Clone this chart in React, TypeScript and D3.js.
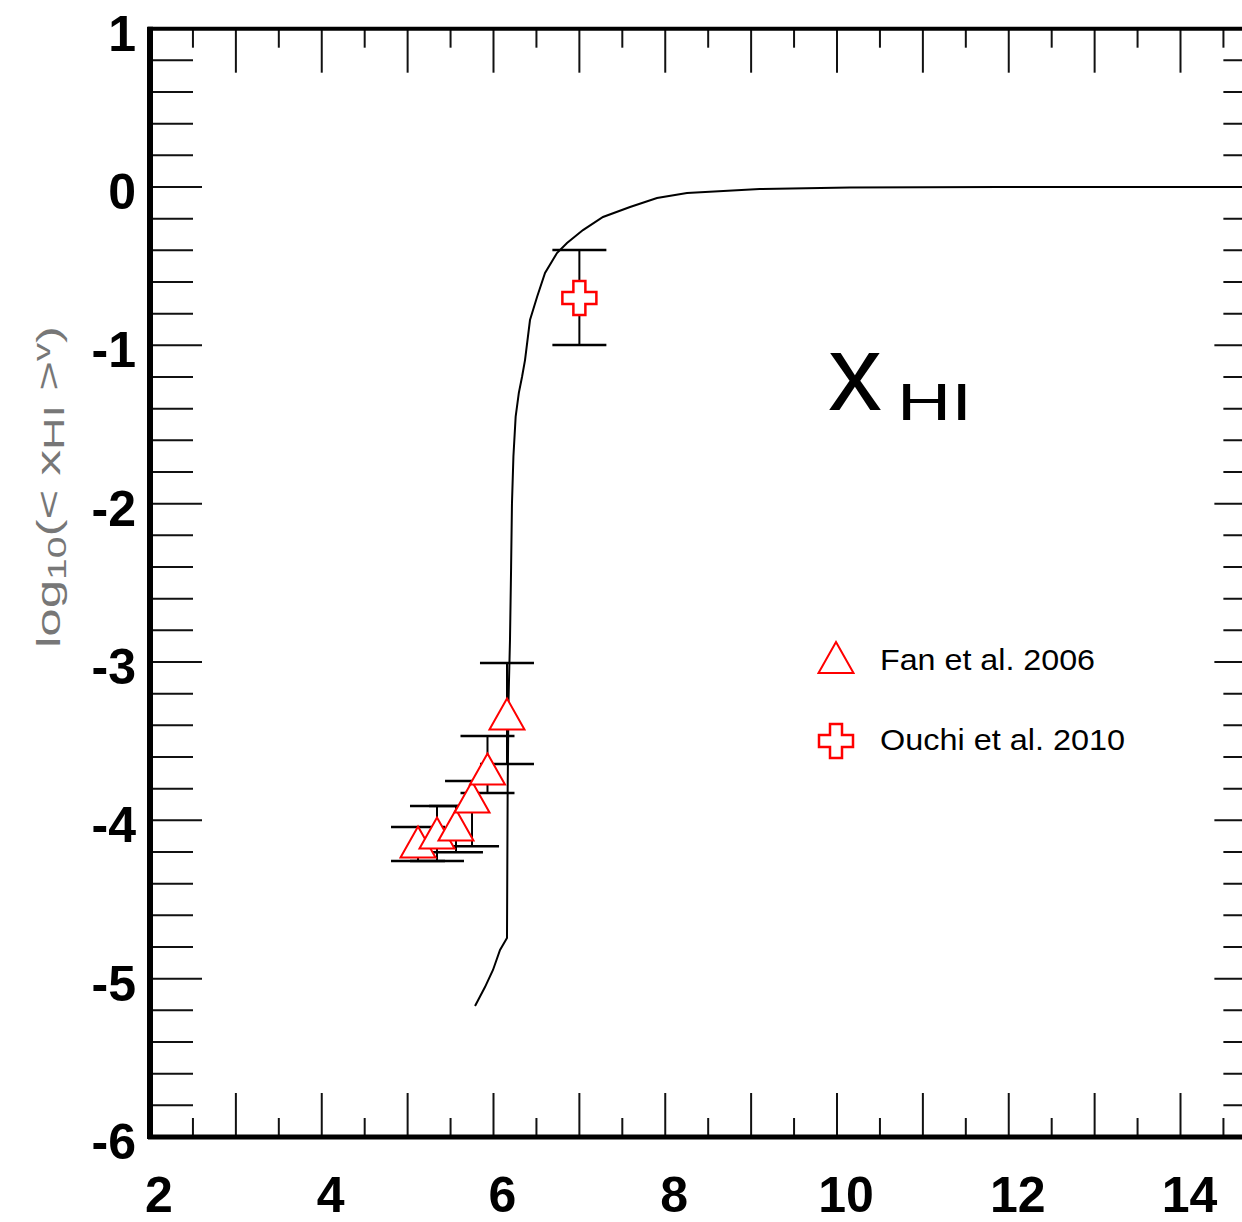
import React from "react";
import * as d3 from "d3";

// ---- data ----
const curveZ = [5.785, 5.901, 5.994, 6.076, 6.157, 6.165, 6.175, 6.192, 6.205, 6.215, 6.232, 6.258, 6.295, 6.332, 6.367, 6.425, 6.507, 6.6, 6.739, 6.856, 7.042, 7.275, 7.59, 7.904, 8.253, 9.1, 10.15, 11.9, 15];
const curveLogX = [-5.173, -5.053, -4.945, -4.819, -4.743, -3.8, -3.24, -2.861, -2.4, -2.0, -1.7, -1.45, -1.3, -1.2, -1.093, -0.84, -0.695, -0.543, -0.417, -0.354, -0.272, -0.189, -0.126, -0.069, -0.038, -0.013, -0.003, 0, 0];

const fanZ = [5.121, 5.342, 5.563, 5.75, 5.93, 6.157];
const fanY = [-4.137, -4.08, -4.029, -3.853, -3.676, -3.328];
const fanUp = [-4.042, -3.909, -3.909, -3.751, -3.467, -3.006];
const fanLo = [-4.257, -4.257, -4.201, -4.163, -3.827, -3.644];

const ouchiZ = [7.0];
const ouchiY = [-0.701];
const ouchiUp = [-0.398];
const ouchiLo = [-0.998];

const xTickLabels = ["2", "4", "6", "8", "10", "12", "14"];
const yTickLabels = ["1", "0", "-1", "-2", "-3", "-4", "-5", "-6"];
const legendLabels = ["Fan et al. 2006", "Ouchi et al. 2010"];

const W = 1242;
const H = 1222;

const x = d3.scaleLinear().domain([2, 15]).range([150, 150 + 13 * 85.875]);
const y = d3.scaleLinear().domain([-6, 1]).range([1137, 1137 - 7 * 158.33]);

const triPath = "M0,-15.5 L17.5,15.5 L-17.5,15.5 Z";
const crossPath = (() => {
  const a = 6, b = 17;
  return `M${-a},${-b} L${a},${-b} L${a},${-a} L${b},${-a} L${b},${a} L${a},${a} L${a},${b} L${-a},${b} L${-a},${a} L${-b},${a} L${-b},${-a} L${-a},${-a} Z`;
})();

export default function App() {
  const x0 = x(2), x1 = x(15), yT = y(1), yB = y(-6);
  const xMajor = d3.range(2, 16, 1);
  const xMinor = d3.range(2.5, 15, 1);
  const yMajor = d3.range(-6, 2, 1);
  const yMinor: number[] = [];
  for (let i = -6; i < 1; i++) for (let k = 1; k < 5; k++) yMinor.push(i + k * 0.2);

  const line = d3
    .line<number>()
    .x((_, i) => x(curveZ[i]))
    .y((_, i) => y(curveLogX[i]));
  const capHalf = 27;
  const tickStroke = "#111";

  const errBars = (zs: number[], up: number[], lo: number[]) =>
    zs.map((z, i) => (
      <g key={i} stroke="#000" strokeWidth={2}>
        <line x1={x(z)} x2={x(z)} y1={y(up[i])} y2={y(lo[i])} />
        <line x1={x(z) - capHalf} x2={x(z) + capHalf} y1={y(up[i])} y2={y(up[i])} strokeWidth={2.5} />
        <line x1={x(z) - capHalf} x2={x(z) + capHalf} y1={y(lo[i])} y2={y(lo[i])} strokeWidth={2.5} />
      </g>
    ));

  return (
    <svg width={W} height={H} style={{ position: "absolute", left: 0, top: 0, background: "#fff" }} fontFamily="Liberation Sans, Arial, sans-serif">
      <rect x={0} y={0} width={W} height={H} fill="#fff" />
      {/* ticks */}
      <g stroke={tickStroke} strokeWidth={2}>
        {xMajor.map((v) => (
          <g key={"xm" + v}>
            <line x1={x(v)} x2={x(v)} y1={yB} y2={yB - 44} />
            <line x1={x(v)} x2={x(v)} y1={yT} y2={yT + 44} />
          </g>
        ))}
        {xMinor.map((v) => (
          <g key={"xn" + v}>
            <line x1={x(v)} x2={x(v)} y1={yB} y2={yB - 19} />
            <line x1={x(v)} x2={x(v)} y1={yT} y2={yT + 19} />
          </g>
        ))}
        {yMajor.map((v) => (
          <g key={"ym" + v}>
            <line x1={x0} x2={x0 + 52} y1={y(v)} y2={y(v)} />
            <line x1={x1} x2={x1 - 52} y1={y(v)} y2={y(v)} />
          </g>
        ))}
        {yMinor.map((v) => (
          <g key={"yn" + v}>
            <line x1={x0} x2={x0 + 43} y1={y(v)} y2={y(v)} />
            <line x1={x1} x2={x1 - 43} y1={y(v)} y2={y(v)} />
          </g>
        ))}
      </g>
      {/* frame */}
      <line x1={x0 - 2} x2={x1} y1={yT} y2={yT} stroke="#000" strokeWidth={4} />
      <line x1={x0 - 2} x2={x1} y1={yB} y2={yB} stroke="#000" strokeWidth={5} />
      <line x1={x0} x2={x0} y1={yT - 2} y2={yB + 2} stroke="#000" strokeWidth={6} />
      <line x1={x1} x2={x1} y1={yT} y2={yB} stroke="#000" strokeWidth={4} />

      {/* tick labels */}
      <g fontWeight="bold" fontSize={50} fill="#000">
        {xTickLabels.map((t) => (
          <text key={"xl" + t} x={x(+t) + 9} y={1212} textAnchor="middle">{t}</text>
        ))}
        {yTickLabels.map((t) => (
          <text key={"yl" + t} x={136} y={Math.max(y(+t), 18) + 22} textAnchor="end">{t}</text>
        ))}
      </g>

      {/* y axis title */}
      <text transform="translate(60,487) rotate(-90)" textAnchor="middle" fontSize={34} fill="#777" textLength={322} lengthAdjust="spacingAndGlyphs">
        log<tspan fontSize={26} dy={6}>10</tspan><tspan dy={-6}>(&lt; x</tspan><tspan fontSize={30} dy={4}>HI</tspan><tspan dy={-4}> &gt;</tspan><tspan fontSize={24} dy={-10}>v</tspan><tspan dy={10}>)</tspan>
      </text>

      {/* curve */}
      <path d={line(curveZ) || ""} fill="none" stroke="#000" strokeWidth={2} />

      {/* error bars */}
      {errBars(fanZ, fanUp, fanLo)}
      {errBars(ouchiZ, ouchiUp, ouchiLo)}

      {/* markers */}
      {fanZ.map((z, i) => (
        <path key={"f" + i} d={triPath} transform={`translate(${x(z)},${y(fanY[i])})`} fill="#fff" stroke="#f00" strokeWidth={2} />
      ))}
      {ouchiZ.map((z, i) => (
        <path key={"o" + i} d={crossPath} transform={`translate(${x(z)},${y(ouchiY[i])})`} fill="#fff" stroke="#f00" strokeWidth={2.5} />
      ))}

      {/* xHI annotation */}
      <text x={828} y={410} fontSize={108} fill="#000">x</text>
      <text x={897} y={420} fontSize={52} fill="#000" textLength={75} lengthAdjust="spacingAndGlyphs">HI</text>

      {/* legend */}
      <path d={triPath} transform="translate(836,657.5)" fill="#fff" stroke="#f00" strokeWidth={2} />
      <text x={880} y={670} fontSize={30} fill="#000" textLength={215} lengthAdjust="spacingAndGlyphs">{legendLabels[0]}</text>
      <path d={crossPath} transform="translate(836,741)" fill="#fff" stroke="#f00" strokeWidth={2.5} />
      <text x={880} y={750} fontSize={30} fill="#000" textLength={245} lengthAdjust="spacingAndGlyphs">{legendLabels[1]}</text>
    </svg>
  );
}
